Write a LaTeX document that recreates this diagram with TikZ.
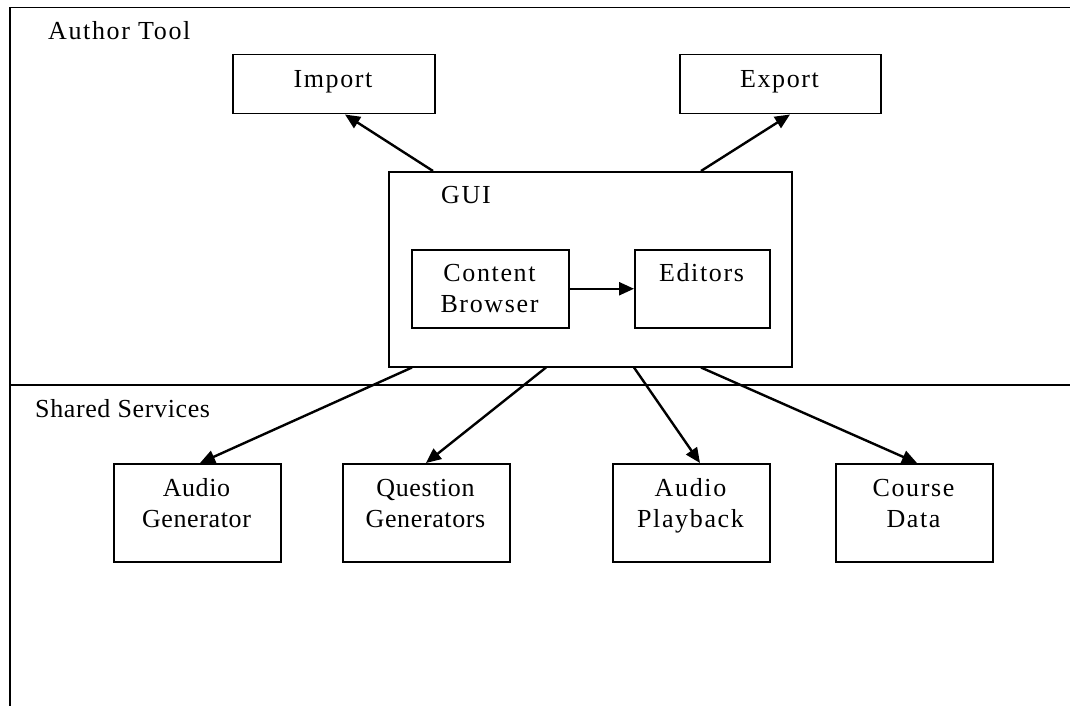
\documentclass[tikz,border=0pt]{standalone}
\usepackage{fontspec}
\setmainfont{Liberation Serif}
\newfontfamily\widefont[LetterSpace=6.3]{Liberation Serif}
\newfontfamily\narrowfont[LetterSpace=2.4]{Liberation Serif}
\usetikzlibrary{arrows.meta}
\begin{document}
\begin{tikzpicture}[x=1pt,y=-1pt,
  box/.style={draw, line width=1.5pt, inner sep=0pt, anchor=north west},
  wl/.style={anchor=base, inner sep=0pt, font=\fontsize{26}{30}\selectfont\widefont},
  nl/.style={anchor=base, inner sep=0pt, font=\fontsize{26}{30}\selectfont\narrowfont},
  conn/.style={line width=2.4pt, -{Triangle[length=15pt,width=13pt]}},
  frame/.style={line width=1.5pt}]
\useasboundingbox (0,0) rectangle (1070,706);
% frame
\coordinate (ftl) at (10,7.5);
\coordinate (fbl) at (10,706);
\coordinate (ftr) at (1070,7.5);
\coordinate (dl) at (10,385);
\coordinate (dr) at (1070,385);
\draw[frame] (fbl) -- (ftl) -- (ftr);
\draw[frame] (dl) -- (dr);
\node[wl, anchor=base west] (at) at (48,40) {Author Tool};
\node[nl, anchor=base west] (ss) at (35,417) {Shared Services};
% top boxes
\node[box, minimum width=202pt, minimum height=59pt] (imp) at (232,54) {};
\node[wl] (impt) at (333,88) {Import};
\node[box, minimum width=201pt, minimum height=59pt] (exp) at (679,54) {};
\node[wl] (expt) at (779.5,88) {Export};
% GUI
\node[box, minimum width=403pt, minimum height=195pt] (gui) at (388,171) {};
\node[wl, anchor=base west] (guit) at (441,203) {GUI};
\node[box, minimum width=157pt, minimum height=78pt] (cb) at (411,249) {};
\node[wl] (cbt1) at (489.5,281) {Content};
\node[wl] (cbt2) at (489.5,312) {Browser};
\node[box, minimum width=135pt, minimum height=78pt] (ed) at (634,249) {};
\node[wl] (edt) at (701.5,281) {Editors};
% bottom boxes
\node[box, minimum width=167pt, minimum height=98pt] (ag) at (113,463) {};
\node[nl] (agt1) at (196.5,496) {Audio};
\node[nl] (agt2) at (196.5,527) {Generator};
\node[box, minimum width=167pt, minimum height=98pt] (qg) at (342,463) {};
\node[nl] (qgt1) at (425.5,496) {Question};
\node[nl] (qgt2) at (425.5,527) {Generators};
\node[box, minimum width=157pt, minimum height=98pt] (ap) at (612,463) {};
\node[wl] (apt1) at (690.5,496) {Audio};
\node[wl] (apt2) at (690.5,527) {Playback};
\node[box, minimum width=157pt, minimum height=98pt] (cd) at (835,463) {};
\node[wl] (cdt1) at (913.5,496) {Course};
\node[wl] (cdt2) at (913.5,527) {Data};
% connectors
\draw[conn] ([xshift=45pt]gui.north west) -- ([xshift=113pt]imp.south west);
\draw[conn] ([xshift=313pt]gui.north west) -- ([xshift=111pt]exp.south west);
\draw[conn] (cb.east) -- (ed.west);
\draw[conn] ([xshift=24pt]gui.south west) -- ([xshift=87pt]ag.north west);
\draw[conn] ([xshift=158pt]gui.south west) -- ([xshift=84pt]qg.north west);
\draw[conn] ([xshift=246pt]gui.south west) -- ([xshift=88pt]ap.north west);
\draw[conn] ([xshift=313pt]gui.south west) -- ([xshift=82pt]cd.north west);
\end{tikzpicture}
\end{document}
